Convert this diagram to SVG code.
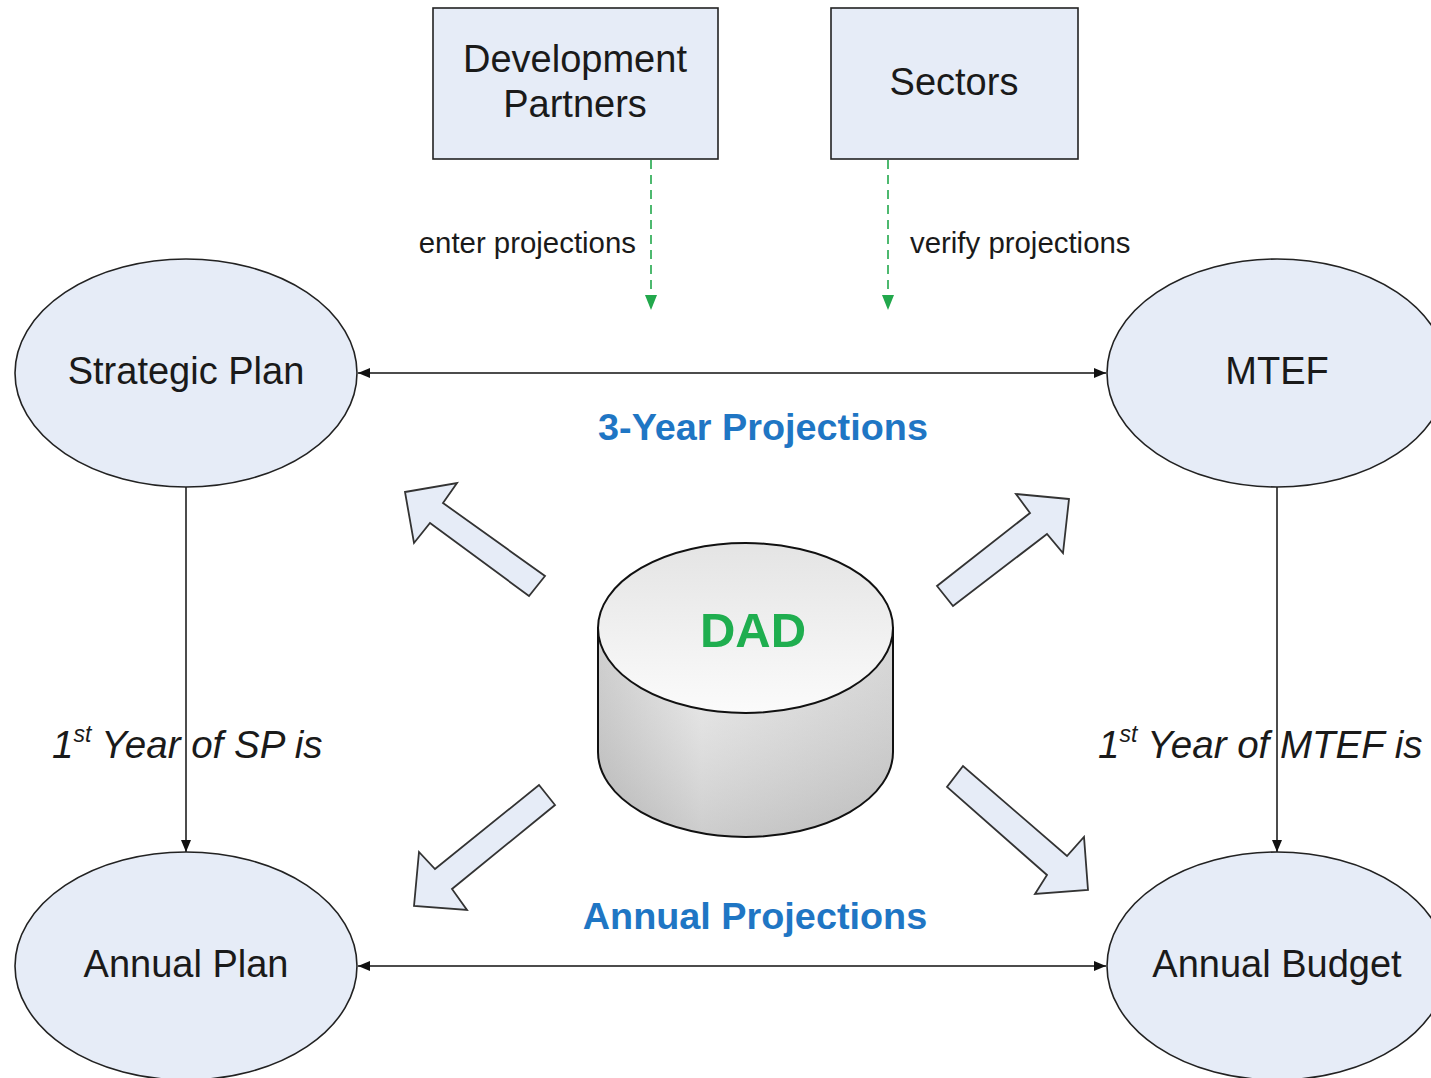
<svg xmlns="http://www.w3.org/2000/svg" width="1431" height="1078" viewBox="0 0 1431 1078">
<style>
.node{fill:#e6ecf7;stroke:#222;stroke-width:1.6}
.big{fill:#e6ecf7;stroke:#333;stroke-width:1.8}
.lbl{font-family:"Liberation Sans",Arial,sans-serif;font-size:38px;fill:#1a1a1a;text-anchor:middle}
.small{font-family:"Liberation Sans",Arial,sans-serif;font-size:29.4px;fill:#1a1a1a}
.blue{font-family:"Liberation Sans",Arial,sans-serif;font-size:37.8px;font-weight:bold;fill:#1f76c4;text-anchor:middle}
.ital{font-family:"Liberation Sans",Arial,sans-serif;font-size:38.5px;font-style:italic;fill:#1a1a1a}
.conn{stroke:#111;stroke-width:1.5;fill:none}
.dash{stroke:#22a84c;stroke-width:1.6;fill:none;stroke-dasharray:9 6}
</style>
<defs>
<marker id="ah" viewBox="0 0 12 10" refX="12" refY="5" markerWidth="12" markerHeight="10" markerUnits="userSpaceOnUse" orient="auto-start-reverse">
<path d="M0,0 L12,5 L0,10 z" fill="#111"/>
</marker>
<marker id="gh" viewBox="0 0 15 12" refX="15" refY="6" markerWidth="15" markerHeight="12" markerUnits="userSpaceOnUse" orient="auto">
<path d="M0,0 L15,6 L0,12 z" fill="#22a84c"/>
</marker>
<linearGradient id="side" x1="0" y1="0" x2="1" y2="0">
<stop offset="0" stop-color="#c4c4c4"/>
<stop offset="0.35" stop-color="#e8e8e8"/>
<stop offset="1" stop-color="#cfcfcf"/>
</linearGradient>
<linearGradient id="sideV" x1="0" y1="0" x2="0" y2="1">
<stop offset="0" stop-color="#ffffff" stop-opacity="0.2"/>
<stop offset="1" stop-color="#999999" stop-opacity="0.35"/>
</linearGradient>
<linearGradient id="top" x1="0" y1="0" x2="0" y2="1">
<stop offset="0" stop-color="#e4e4e4"/>
<stop offset="1" stop-color="#fbfbfb"/>
</linearGradient>
</defs>
<rect width="1431" height="1078" fill="#ffffff"/>

<g id="connectors">
<line class="conn" x1="358" y1="373" x2="1106" y2="373" marker-start="url(#ah)" marker-end="url(#ah)"/>
<line class="conn" x1="358" y1="966" x2="1106" y2="966" marker-start="url(#ah)" marker-end="url(#ah)"/>
<line class="conn" x1="186" y1="487" x2="186" y2="852" marker-end="url(#ah)"/>
<line class="conn" x1="1277" y1="487" x2="1277" y2="852" marker-end="url(#ah)"/>
<line class="dash" x1="651" y1="160" x2="651" y2="310" marker-end="url(#gh)"/>
<line class="dash" x1="888" y1="160" x2="888" y2="310" marker-end="url(#gh)"/>
</g>

<g id="dev-partners">
<rect class="node" x="433" y="8" width="285" height="151"/>
<text class="lbl" x="575" y="72">Development</text>
<text class="lbl" x="575" y="117">Partners</text>
</g>
<g id="sectors">
<rect class="node" x="831" y="8" width="247" height="151"/>
<text class="lbl" x="954" y="95">Sectors</text>
</g>

<g id="strategic-plan">
<ellipse class="node" cx="186" cy="373" rx="171" ry="114"/>
<text class="lbl" x="186" y="384">Strategic Plan</text>
</g>
<g id="mtef">
<ellipse class="node" cx="1277" cy="373" rx="170" ry="114"/>
<text class="lbl" x="1277" y="384">MTEF</text>
</g>
<g id="annual-plan">
<ellipse class="node" cx="186" cy="966" rx="171" ry="114"/>
<text class="lbl" x="186" y="977">Annual Plan</text>
</g>
<g id="annual-budget">
<ellipse class="node" cx="1277" cy="966" rx="170" ry="114"/>
<text class="lbl" x="1277" y="977">Annual Budget</text>
</g>

<g id="dad">
<path d="M598,628 L598,752 A147.5,85 0 0 0 893,752 L893,628 Z" fill="url(#side)"/>
<path d="M598,628 L598,752 A147.5,85 0 0 0 893,752 L893,628 Z" fill="url(#sideV)" stroke="#111" stroke-width="2"/>
<ellipse cx="745.5" cy="628" rx="147.5" ry="85" fill="url(#top)" stroke="#111" stroke-width="2"/>
<text x="753" y="647" font-family="Liberation Sans,Arial,sans-serif" font-size="49" font-weight="bold" fill="#1fae4f" text-anchor="middle">DAD</text>
</g>

<g id="big-arrows">
<polygon class="big" points="405,492 457,483 443,503 545,576 529,596 430,523 414,543"/>
<polygon class="big" points="1069,499 1016,494 1030,513 937,586 953,606 1047,534 1063,553"/>
<polygon class="big" points="414,906 419,852 435,869 539,785 555,805 452,889 467,910"/>
<polygon class="big" points="1088,890 1084,837 1067,856 963,766 947,787 1047,875 1035,894"/>
</g>

<g id="labels">
<text class="small" x="636" y="253" text-anchor="end">enter projections</text>
<text class="small" x="910" y="253">verify projections</text>
<text class="blue" x="763" y="440">3-Year Projections</text>
<text class="blue" x="755" y="929">Annual Projections</text>
<text class="ital" x="52" y="758">1<tspan font-size="23" dy="-16">st</tspan><tspan dy="16"> Year of SP is</tspan></text>
<text class="ital" x="1098" y="758">1<tspan font-size="23" dy="-16">st</tspan><tspan dy="16"> Year of MTEF is</tspan></text>
</g>
</svg>
